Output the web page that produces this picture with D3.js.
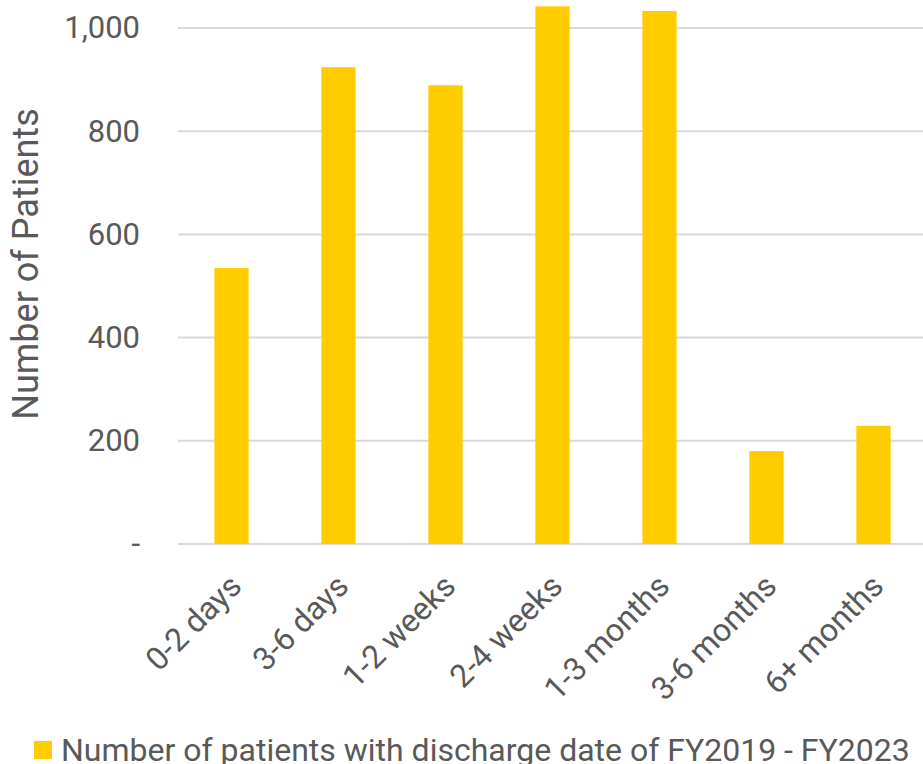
<!DOCTYPE html>
<html>
<head>
<meta charset="utf-8">
<script src="https://cdn.jsdelivr.net/npm/d3@7"></script>
<style>
  body { margin: 0; background: #fff; }
  svg { display: block; font-family: Roboto, sans-serif; }
</style>
</head>
<body>
<svg width="923" height="764"></svg>
<script>
const categories = ['0-2 days', '3-6 days', '1-2 weeks', '2-4 weeks', '1-3 months', '3-6 months', '6+ months']
const patients = [535, 924, 889, 1042, 1033, 180, 229]
const yTicks = [0, 200, 400, 600, 800, 1000]
const seriesName = 'Number of patients with discharge date of FY2019 - FY2023'

const svg = d3.select('svg')
const textColor = '#595959'

const xScale = d3.scaleBand()
  .domain(categories)
  .range([178, 927])
  .paddingInner(0.68)
  .paddingOuter(0.34)

const yScale = d3.scaleLinear()
  .domain([0, 1000])
  .range([544, 28])

// gridlines
svg.append('g')
  .selectAll('line')
  .data(yTicks)
  .enter()
  .append('line')
  .attr('x1', 178)
  .attr('x2', 923)
  .attr('y1', d => yScale(d))
  .attr('y2', d => yScale(d))
  .attr('stroke', '#d9d9d9')
  .attr('stroke-width', 2)

// bars
svg.append('g')
  .selectAll('rect')
  .data(patients)
  .enter()
  .append('rect')
  .attr('x', (d, i) => xScale(categories[i]))
  .attr('y', d => yScale(d))
  .attr('width', xScale.bandwidth())
  .attr('height', d => yScale(0) - yScale(d))
  .attr('fill', '#ffcc00')

// y axis labels
const yAxis = d3.axisLeft(yScale)
  .tickValues(yTicks)
  .tickSize(0)
  .tickPadding(0)
  .tickFormat(d => d === 0 ? '-' : d3.format(',')(d))

const yAxisG = svg.append('g')
  .attr('transform', 'translate(140, 0)')
  .call(yAxis)
yAxisG.select('.domain').remove()
yAxisG.selectAll('text')
  .attr('fill', textColor)
  .style('font-size', '31px')
  .style('font-family', 'Roboto, sans-serif')

// x axis labels
const xAxisG = svg.append('g')
  .attr('transform', `translate(0, ${yScale(0)})`)
  .call(d3.axisBottom(xScale).tickSize(0).tickPadding(0))
xAxisG.select('.domain').remove()
xAxisG.selectAll('text')
  .attr('fill', textColor)
  .attr('dy', null)
  .attr('y', null)
  .attr('text-anchor', 'end')
  .attr('transform', 'translate(12, 44) rotate(-45)')
  .style('font-size', '32px')
  .style('font-family', 'Roboto, sans-serif')

// y axis title
svg.append('text')
  .attr('transform', 'translate(38, 264) rotate(-90)')
  .attr('text-anchor', 'middle')
  .attr('fill', textColor)
  .style('font-size', '36px')
  .text('Number of Patients')

// legend
const legend = svg.append('g').attr('transform', 'translate(34, 741)')
legend.append('rect')
  .attr('width', 18)
  .attr('height', 18)
  .attr('fill', '#ffcc00')
legend.append('text')
  .attr('x', 27)
  .attr('y', 20)
  .attr('fill', textColor)
  .style('font-size', '32px')
  .text(seriesName)
</script>
</body>
</html>
